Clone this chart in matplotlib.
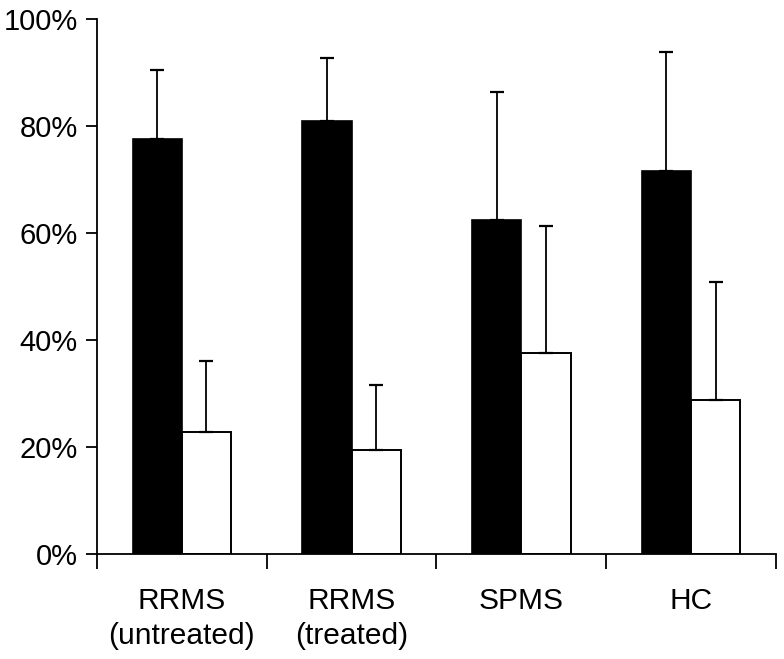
import matplotlib
matplotlib.use("Agg")
import matplotlib.pyplot as plt
import numpy as np
from matplotlib.ticker import FuncFormatter, FixedLocator

plt.rcParams['font.family'] = ['Liberation Sans', 'DejaVu Sans']

categories = ["RRMS\n(untreated)", "RRMS\n(treated)", "SPMS", "HC"]
black_vals = [77.5, 80.9, 62.5, 71.6]
black_err = [13.0, 11.9, 23.9, 22.2]
white_vals = [22.8, 19.4, 37.6, 28.7]
white_err = [13.3, 12.1, 23.7, 22.1]

fig = plt.figure(figsize=(7.84, 6.59), dpi=100)
ax = fig.add_axes([0.1237, 0.1593, 0.866, 0.8119])

x = np.arange(len(categories)) + 0.5
w = 0.29
ek = dict(ecolor='black', elinewidth=1.3, capsize=5, capthick=1.6)
ax.bar(x - w/2, black_vals, w, color='black', edgecolor='black', linewidth=1.2,
       yerr=[np.zeros(4), black_err], error_kw=ek, zorder=2)
ax.bar(x + w/2, white_vals, w, color='white', edgecolor='black', linewidth=1.4,
       yerr=[np.zeros(4), white_err], error_kw=ek, zorder=2)

ax.set_xlim(0, len(categories))
ax.set_ylim(0, 100)
ax.set_yticks([0, 20, 40, 60, 80, 100])
ax.yaxis.set_major_formatter(FuncFormatter(lambda v, p: f"{int(v)}%"))
ax.xaxis.set_major_locator(FixedLocator(np.arange(len(categories) + 1)))
ax.xaxis.set_minor_locator(FixedLocator(x))
ax.set_xticklabels([])
ax.set_xticklabels(categories, minor=True, linespacing=1.3)
ax.tick_params(axis='x', which='major', direction='out', length=11, width=1.3)
ax.tick_params(axis='x', which='minor', length=0, pad=24, labelsize=21.5)
ax.tick_params(axis='y', direction='out', length=8, width=1.3, labelsize=21, pad=6)

for s in ['top', 'right']:
    ax.spines[s].set_visible(False)
for s in ['left', 'bottom']:
    ax.spines[s].set_linewidth(1.3)

fig.savefig("out.png", dpi=100)
